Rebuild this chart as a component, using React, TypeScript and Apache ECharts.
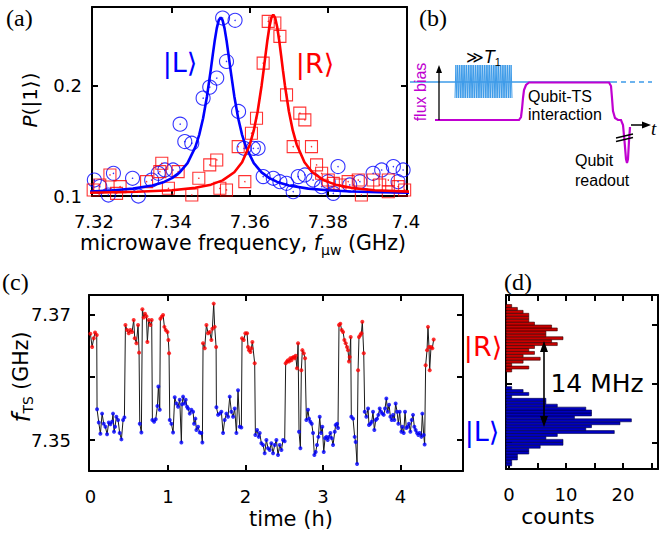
import React, { useEffect, useRef } from "react";
import * as echarts from "echarts";

// ---------- Panel (a): spectroscopy ----------
const blueFreq = [7.3201, 7.3215, 7.3237, 7.3250, 7.3299, 7.3314, 7.3348, 7.3365, 7.3382, 7.3403, 7.3421, 7.3433, 7.3451, 7.3480, 7.3497, 7.3515, 7.3530, 7.3562, 7.3540, 7.3571, 7.3585, 7.3609, 7.3621, 7.3634, 7.3660, 7.3677, 7.3694, 7.3711, 7.3724, 7.3741, 7.3762, 7.3784, 7.3801, 7.3814, 7.3826, 7.3856, 7.3882, 7.3916, 7.3938, 7.3968, 7.3993, 7.3980];
const blueP = [0.1145, 0.1085, 0.1009, 0.1206, 0.1161, 0.1000, 0.1145, 0.1206, 0.1236, 0.1236, 0.1652, 0.1494, 0.1479, 0.1888, 0.1988, 0.2070, 0.2615, 0.2594, 0.2221, 0.1767, 0.1433, 0.1433, 0.1433, 0.1176, 0.1161, 0.1130, 0.1115, 0.1039, 0.1176, 0.1191, 0.1145, 0.1085, 0.1130, 0.1024, 0.1267, 0.1100, 0.1130, 0.1206, 0.1236, 0.1267, 0.1236, 0.1130];
const redFreq = [7.3198, 7.3215, 7.3241, 7.3258, 7.3267, 7.3335, 7.3369, 7.3374, 7.3391, 7.3416, 7.3451, 7.3469, 7.3497, 7.3515, 7.3523, 7.3540, 7.3570, 7.3587, 7.3604, 7.3617, 7.3634, 7.3647, 7.3664, 7.3677, 7.3694, 7.3728, 7.3741, 7.3711, 7.3758, 7.3771, 7.3784, 7.3801, 7.3814, 7.3831, 7.3852, 7.3878, 7.3886, 7.3916, 7.3933, 7.3955, 7.3955, 7.3980, 7.3997];
const redP = [0.1055, 0.1100, 0.1191, 0.1024, 0.1085, 0.1130, 0.1221, 0.1297, 0.1070, 0.1221, 0.1009, 0.1161, 0.1282, 0.1327, 0.1070, 0.1055, 0.1448, 0.1130, 0.1570, 0.1706, 0.2206, 0.2585, 0.2570, 0.2448, 0.1918, 0.1752, 0.1691, 0.1448, 0.1448, 0.1282, 0.1206, 0.1145, 0.1115, 0.1100, 0.1130, 0.1145, 0.1009, 0.1145, 0.1100, 0.1145, 0.1039, 0.1085, 0.1055];
const blueFitFreq = [7.319, 7.325, 7.33, 7.335, 7.338, 7.34, 7.342, 7.344, 7.346, 7.347, 7.348, 7.349, 7.35, 7.3505, 7.351, 7.3515, 7.352, 7.3525, 7.353, 7.3535, 7.354, 7.3545, 7.355, 7.356, 7.357, 7.358, 7.359, 7.361, 7.363, 7.365, 7.367, 7.37, 7.375, 7.38, 7.386, 7.393, 7.401];
const blueFitP = [0.1041, 0.1052, 0.1067, 0.1096, 0.1128, 0.1162, 0.1214, 0.1298, 0.1443, 0.1555, 0.1706, 0.1906, 0.2154, 0.2287, 0.2414, 0.2521, 0.2594, 0.2620, 0.2594, 0.2521, 0.2414, 0.2287, 0.2154, 0.1906, 0.1706, 0.1555, 0.1443, 0.1298, 0.1214, 0.1162, 0.1128, 0.1096, 0.1067, 0.1052, 0.1041, 0.1035, 0.1030];
const redFitFreq = [7.319, 7.331, 7.34, 7.346, 7.35, 7.353, 7.356, 7.358, 7.36, 7.361, 7.362, 7.363, 7.3635, 7.364, 7.3645, 7.365, 7.3655, 7.366, 7.3665, 7.367, 7.3675, 7.368, 7.3685, 7.369, 7.37, 7.371, 7.372, 7.374, 7.376, 7.379, 7.382, 7.386, 7.392, 7.401];
const redFitP = [0.1030, 0.1038, 0.1052, 0.1074, 0.1103, 0.1142, 0.1216, 0.1306, 0.1468, 0.1595, 0.1769, 0.2001, 0.2135, 0.2278, 0.2416, 0.2534, 0.2616, 0.2645, 0.2616, 0.2534, 0.2416, 0.2278, 0.2135, 0.2001, 0.1769, 0.1595, 0.1468, 0.1306, 0.1216, 0.1142, 0.1103, 0.1074, 0.1052, 0.1039];
const freqTicks = [7.32, 7.34, 7.36, 7.38, 7.4];
const probTicks = [0.1, 0.2];

// ---------- Panel (c): TS frequency vs time ----------
const timeH = [0.000, 0.022, 0.043, 0.060, 0.082, 0.086, 0.108, 0.129, 0.151, 0.172, 0.194, 0.215, 0.237, 0.258, 0.280, 0.292, 0.305, 0.318, 0.335, 0.357, 0.378, 0.400, 0.422, 0.439, 0.452, 0.473, 0.495, 0.516, 0.538, 0.559, 0.572, 0.594, 0.615, 0.628, 0.637, 0.658, 0.671, 0.688, 0.705, 0.723, 0.735, 0.753, 0.774, 0.791, 0.800, 0.822, 0.843, 0.865, 0.877, 0.895, 0.903, 0.920, 0.938, 0.955, 0.972, 0.994, 1.006, 1.015, 1.024, 1.045, 1.067, 1.088, 1.110, 1.131, 1.153, 1.174, 1.183, 1.196, 1.217, 1.230, 1.247, 1.260, 1.282, 1.303, 1.325, 1.338, 1.355, 1.368, 1.389, 1.411, 1.432, 1.445, 1.454, 1.475, 1.497, 1.518, 1.540, 1.561, 1.574, 1.591, 1.604, 1.622, 1.626, 1.647, 1.669, 1.690, 1.712, 1.733, 1.755, 1.776, 1.798, 1.819, 1.841, 1.862, 1.884, 1.905, 1.927, 1.948, 1.957, 1.978, 2.000, 2.022, 2.034, 2.047, 2.065, 2.077, 2.090, 2.120, 2.129, 2.151, 2.172, 2.185, 2.206, 2.228, 2.249, 2.271, 2.292, 2.314, 2.335, 2.357, 2.378, 2.400, 2.421, 2.443, 2.465, 2.486, 2.507, 2.520, 2.537, 2.550, 2.563, 2.580, 2.593, 2.606, 2.623, 2.636, 2.649, 2.666, 2.680, 2.692, 2.710, 2.722, 2.735, 2.753, 2.770, 2.787, 2.808, 2.821, 2.838, 2.856, 2.873, 2.890, 2.907, 2.924, 2.942, 2.959, 2.976, 2.993, 3.011, 3.028, 3.045, 3.062, 3.079, 3.097, 3.114, 3.131, 3.153, 3.165, 3.183, 3.195, 3.208, 3.225, 3.243, 3.260, 3.277, 3.294, 3.311, 3.324, 3.337, 3.346, 3.359, 3.367, 3.389, 3.410, 3.423, 3.441, 3.454, 3.466, 3.484, 3.497, 3.509, 3.527, 3.540, 3.561, 3.583, 3.595, 3.613, 3.630, 3.647, 3.664, 3.682, 3.699, 3.716, 3.733, 3.750, 3.768, 3.785, 3.802, 3.819, 3.836, 3.854, 3.871, 3.888, 3.905, 3.922, 3.939, 3.957, 3.974, 3.991, 4.013, 4.025, 4.043, 4.060, 4.077, 4.094, 4.111, 4.129, 4.146, 4.163, 4.180, 4.197, 4.215, 4.232, 4.249, 4.271, 4.283, 4.301, 4.313, 4.326, 4.344, 4.356, 4.369, 4.378, 4.395, 4.412, 4.430];
const fTS = [7.3669, 7.3648, 7.3662, 7.3671, 7.3667, 7.3549, 7.3528, 7.3510, 7.3542, 7.3526, 7.3521, 7.3509, 7.3528, 7.3525, 7.3529, 7.3542, 7.3513, 7.3521, 7.3537, 7.3532, 7.3511, 7.3501, 7.3532, 7.3536, 7.3683, 7.3675, 7.3670, 7.3675, 7.3672, 7.3691, 7.3662, 7.3654, 7.3683, 7.3639, 7.3526, 7.3512, 7.3708, 7.3695, 7.3701, 7.3697, 7.3656, 7.3691, 7.3683, 7.3691, 7.3532, 7.3529, 7.3533, 7.3554, 7.3585, 7.3548, 7.3693, 7.3696, 7.3699, 7.3680, 7.3675, 7.3672, 7.3659, 7.3638, 7.3532, 7.3526, 7.3512, 7.3568, 7.3558, 7.3553, 7.3564, 7.3496, 7.3557, 7.3569, 7.3558, 7.3564, 7.3553, 7.3550, 7.3542, 7.3548, 7.3545, 7.3526, 7.3534, 7.3516, 7.3521, 7.3512, 7.3511, 7.3496, 7.3654, 7.3646, 7.3683, 7.3670, 7.3672, 7.3659, 7.3677, 7.3717, 7.3680, 7.3648, 7.3552, 7.3540, 7.3542, 7.3545, 7.3511, 7.3532, 7.3542, 7.3537, 7.3569, 7.3545, 7.3537, 7.3550, 7.3511, 7.3579, 7.3521, 7.3520, 7.3662, 7.3659, 7.3670, 7.3670, 7.3648, 7.3643, 7.3640, 7.3646, 7.3656, 7.3622, 7.3508, 7.3516, 7.3505, 7.3511, 7.3495, 7.3492, 7.3479, 7.3500, 7.3487, 7.3484, 7.3495, 7.3479, 7.3492, 7.3500, 7.3476, 7.3492, 7.3484, 7.3500, 7.3498, 7.3622, 7.3625, 7.3627, 7.3625, 7.3630, 7.3627, 7.3631, 7.3632, 7.3630, 7.3634, 7.3614, 7.3654, 7.3513, 7.3487, 7.3611, 7.3643, 7.3638, 7.3630, 7.3532, 7.3548, 7.3534, 7.3529, 7.3526, 7.3511, 7.3476, 7.3481, 7.3492, 7.3505, 7.3537, 7.3511, 7.3521, 7.3481, 7.3503, 7.3505, 7.3500, 7.3505, 7.3511, 7.3503, 7.3492, 7.3513, 7.3524, 7.3526, 7.3519, 7.3683, 7.3685, 7.3675, 7.3672, 7.3659, 7.3654, 7.3648, 7.3643, 7.3625, 7.3632, 7.3664, 7.3537, 7.3534, 7.3505, 7.3497, 7.3462, 7.3611, 7.3664, 7.3667, 7.3670, 7.3688, 7.3638, 7.3545, 7.3537, 7.3550, 7.3524, 7.3526, 7.3529, 7.3545, 7.3516, 7.3532, 7.3534, 7.3540, 7.3550, 7.3545, 7.3542, 7.3540, 7.3550, 7.3566, 7.3545, 7.3556, 7.3537, 7.3532, 7.3540, 7.3532, 7.3558, 7.3545, 7.3526, 7.3545, 7.3513, 7.3521, 7.3511, 7.3545, 7.3519, 7.3521, 7.3526, 7.3513, 7.3532, 7.3540, 7.3521, 7.3516, 7.3511, 7.3508, 7.3511, 7.3505, 7.3542, 7.3508, 7.3493, 7.3619, 7.3643, 7.3680, 7.3648, 7.3611, 7.3648, 7.3646, 7.3660];
const stateThreshold = 7.359;
const timeTicks = [0, 1, 2, 3, 4];
const fTicks = [7.35, 7.36, 7.37];
const fTickLabels = [7.35, 7.37];

// ---------- Panel (d): histogram ----------
const binCenters = [7.34625, 7.34675, 7.34725, 7.34775, 7.34825, 7.34875, 7.34925, 7.34975, 7.35025, 7.35075, 7.35125, 7.35175, 7.35225, 7.35275, 7.35325, 7.35375, 7.35425, 7.35475, 7.35525, 7.35575, 7.35625, 7.35675, 7.35725, 7.35775, 7.35825, 7.35875, 7.35925, 7.35975, 7.36025, 7.36075, 7.36125, 7.36175, 7.36225, 7.36275, 7.36325, 7.36375, 7.36425, 7.36475, 7.36525, 7.36575, 7.36625, 7.36675, 7.36725, 7.36775, 7.36825, 7.36875, 7.36925, 7.36975, 7.37025, 7.37075, 7.37125, 7.37175, 7.37225, 7.37275, 7.37325, 7.37375];
const blueCounts = [1, 1, 2, 2, 4, 4, 6, 10, 10, 7, 9, 19, 14, 15, 20, 22, 12, 15, 15, 14, 9, 7, 7, 1, 4, 3, 1, 0, 0, 0, 0, 0, 0, 0, 0, 0, 0, 0, 0, 0, 0, 0, 0, 0, 0, 0, 0, 0, 0, 0, 0, 0, 0, 0, 0, 0];
const redCounts = [0, 0, 0, 0, 0, 0, 0, 0, 0, 0, 0, 0, 0, 0, 0, 0, 0, 0, 0, 0, 0, 0, 0, 0, 0, 0, 0, 0, 0, 0, 0, 0, 1, 4, 1, 3, 6, 3, 5, 4, 5, 9, 8, 10, 7, 7, 9, 8, 5, 4, 4, 4, 3, 2, 1, 0];
const binWidth = 0.0005;
const countTicks = [0, 5, 10, 15, 20, 25];
const countLabels = [0, 10, 20];

const FONT = '"DejaVu Sans", "Open Sans", sans-serif';
const SERIF = '"Liberation Serif", "DejaVu Serif", serif';
const ARIAL = '"Liberation Sans", "DejaVu Sans", sans-serif';
const BLUE = "#0000ff";
const RED = "#ff0000";
const MAG = "#c000d0";
const LBLUE = "#3d9be9";

function axis(extra: any) {
  const tickVals = extra.tickVals;
  const labelVals = extra.labelVals;
  const fmt = extra.fmt;
  const a: any = {
    type: "value",
    gridIndex: extra.gridIndex,
    position: extra.position,
    min: extra.min,
    max: extra.max,
    axisLine: { show: true, onZero: false, lineStyle: { color: "#000", width: 2 } },
    splitLine: { show: false },
    axisTick: tickVals
      ? { show: true, inside: true, length: 6, lineStyle: { color: "#000", width: 2 }, customValues: tickVals }
      : { show: false },
    axisLabel: labelVals
      ? { show: true, customValues: labelVals, formatter: fmt, fontSize: 18, color: "#000", fontFamily: FONT, margin: extra.margin ?? 10 }
      : { show: false },
  };
  return a;
}

const fmtNum = (v: number) => String(Number(v.toFixed(3)));

function zigzag(x0: number, x1: number, y0: number, y1: number, n: number) {
  const pts: number[][] = [];
  for (let i = 0; i <= n; i++) pts.push([x0 + ((x1 - x0) * i) / n, i % 2 ? y0 : y1]);
  return pts;
}

function buildOption() {
  const redPts: number[][] = [];
  const bluePts: number[][] = [];
  const linePts: number[][] = [];
  timeH.forEach((t, i) => {
    linePts.push([t, fTS[i]]);
    (fTS[i] > stateThreshold ? redPts : bluePts).push([t, fTS[i]]);
  });
  const histData = (counts: number[]) => binCenters.map((c, i) => [counts[i], c]).filter((d) => d[0] > 0);
  const histRender = (fill: string, stroke: string) => (params: any, api: any) => {
    const n = api.value(0);
    const c = api.value(1);
    const p0 = api.coord([0, c - binWidth / 2]);
    const p1 = api.coord([n, c + binWidth / 2]);
    return {
      type: "rect",
      shape: { x: p0[0], y: p1[1], width: p1[0] - p0[0], height: p0[1] - p1[1] },
      style: { fill, stroke, lineWidth: 0.6 },
    };
  };

  const textBase = { fontFamily: FONT, fill: "#000" };

  return {
    animation: false,
    backgroundColor: "#fff",
    grid: [
      { left: 92, top: 7, width: 315, height: 189, outerBoundsMode: "none" },
      { left: 89, top: 295, width: 374, height: 176, outerBoundsMode: "none" },
      { left: 506, top: 295, width: 152, height: 174, outerBoundsMode: "none" },
    ],
    xAxis: [
      axis({ gridIndex: 0, position: "bottom", min: 7.3195, max: 7.4003, tickVals: [7.34, 7.36, 7.38], labelVals: freqTicks, fmt: fmtNum, margin: 16 }),
      axis({ gridIndex: 0, position: "top", min: 7.3195, max: 7.4003, tickVals: [7.34, 7.36, 7.38] }),
      axis({ gridIndex: 1, position: "bottom", min: -0.018, max: 4.808, tickVals: [1, 2, 3, 4], labelVals: timeTicks, fmt: fmtNum, margin: 16 }),
      axis({ gridIndex: 1, position: "top", min: -0.018, max: 4.808, tickVals: [1, 2, 3, 4] }),
      axis({ gridIndex: 2, position: "bottom", min: -0.53, max: 26.14, tickVals: countTicks, labelVals: countLabels, fmt: fmtNum, margin: 16 }),
      axis({ gridIndex: 2, position: "top", min: -0.53, max: 26.14, tickVals: countTicks }),
      { type: "value", gridIndex: 2, min: 0, max: 26.67, show: false },
    ],
    yAxis: [
      axis({ gridIndex: 0, position: "left", min: 0.1, max: 0.2715, tickVals: [0.2], labelVals: probTicks, fmt: fmtNum, margin: 10 }),
      axis({ gridIndex: 0, position: "right", min: 0.1, max: 0.2715, tickVals: [0.2] }),
      axis({ gridIndex: 1, position: "left", min: 7.34507, max: 7.37307, tickVals: fTicks, labelVals: fTickLabels, fmt: fmtNum, margin: 18 }),
      axis({ gridIndex: 1, position: "right", min: 7.34507, max: 7.37307, tickVals: fTicks }),
      axis({ gridIndex: 2, position: "left", min: 7.34545, max: 7.37512, tickVals: fTicks }),
      axis({ gridIndex: 2, position: "right", min: 7.34545, max: 7.37512, tickVals: fTicks }),
    ],
    series: [
      {
        type: "scatter", xAxisIndex: 0, yAxisIndex: 0, symbol: "circle", symbolSize: 14,
        data: blueFreq.map((f, i) => [f, blueP[i]]),
        itemStyle: { color: "rgba(0,0,0,0)", borderColor: BLUE, borderWidth: 1.1 }, z: 2,
      },
      {
        type: "scatter", xAxisIndex: 0, yAxisIndex: 0, symbol: "rect", symbolSize: 12,
        data: redFreq.map((f, i) => [f, redP[i]]),
        itemStyle: { color: "rgba(0,0,0,0)", borderColor: RED, borderWidth: 1.1 }, z: 2,
      },
      {
        type: "scatter", xAxisIndex: 0, yAxisIndex: 0, symbolSize: 1.5,
        data: blueFreq.map((f, i) => [f, blueP[i]]), itemStyle: { color: BLUE }, z: 2,
      },
      {
        type: "scatter", xAxisIndex: 0, yAxisIndex: 0, symbolSize: 1.5,
        data: redFreq.map((f, i) => [f, redP[i]]), itemStyle: { color: RED }, z: 2,
      },
      {
        type: "line", xAxisIndex: 0, yAxisIndex: 0, showSymbol: false, symbol: "none",
        data: blueFitFreq.map((f, i) => [f, blueFitP[i]]),
        lineStyle: { color: BLUE, width: 2.6 }, z: 3,
      },
      {
        type: "line", xAxisIndex: 0, yAxisIndex: 0, showSymbol: false, symbol: "none",
        data: redFitFreq.map((f, i) => [f, redFitP[i]]),
        lineStyle: { color: RED, width: 2.6 }, z: 3,
      },
      {
        type: "line", xAxisIndex: 2, yAxisIndex: 2, symbol: "none", data: linePts,
        lineStyle: { color: "#1a1a1a", width: 1 }, z: 2,
      },
      {
        type: "scatter", xAxisIndex: 2, yAxisIndex: 2, symbolSize: 4, data: redPts,
        itemStyle: { color: RED }, z: 3,
      },
      {
        type: "scatter", xAxisIndex: 2, yAxisIndex: 2, symbolSize: 4, data: bluePts,
        itemStyle: { color: BLUE }, z: 3,
      },
      {
        type: "custom", coordinateSystem: "cartesian2d", xAxisIndex: 6, yAxisIndex: 4,
        data: histData(redCounts), renderItem: histRender("#c80000", "#300000"), z: 2,
      },
      {
        type: "custom", coordinateSystem: "cartesian2d", xAxisIndex: 6, yAxisIndex: 4,
        data: histData(blueCounts), renderItem: histRender("#0000c0", "#000040"), z: 2,
      },
    ],
    graphic: [
      // panel labels
      { type: "text", x: 6, y: 6, style: { text: "(a)", fontFamily: SERIF, fontSize: 24, fill: "#000" } },
      { type: "text", x: 419, y: 6, style: { text: "(b)", fontFamily: SERIF, fontSize: 24, fill: "#000" } },
      { type: "text", x: 2, y: 270, style: { text: "(c)", fontFamily: SERIF, fontSize: 24, fill: "#000" } },
      { type: "text", x: 504, y: 270, style: { text: "(d)", fontFamily: SERIF, fontSize: 24, fill: "#000" } },
      // axis titles
      {
        type: "text", x: 243, y: 243,
        style: {
          ...textBase, fontSize: 20.5, align: "center", verticalAlign: "middle",
          text: "microwave frequency, {i|f}{s|μw} (GHz)",
          rich: {
            i: { fontFamily: FONT, fontSize: 20.5, fontStyle: "italic" },
            s: { fontFamily: FONT, fontSize: 14, padding: [13, 0, 0, 0] },
          },
        },
      },
      {
        type: "text", x: 30, y: 100, rotation: Math.PI / 2,
        style: {
          ...textBase, fontSize: 20, align: "center", verticalAlign: "middle",
          text: "{i|P}(|1⟩)",
          rich: { i: { fontFamily: FONT, fontSize: 20, fontStyle: "italic" } },
        },
      },
      {
        type: "text", x: 21, y: 377, rotation: Math.PI / 2,
        style: {
          ...textBase, fontSize: 20.5, align: "center", verticalAlign: "middle",
          text: "{i|f}{s|TS} (GHz)",
          rich: {
            i: { fontFamily: FONT, fontSize: 25, fontStyle: "italic" },
            s: { fontFamily: FONT, fontSize: 14, padding: [13, 0, 0, 0] },
          },
        },
      },
      { type: "text", x: 291, y: 519, style: { ...textBase, fontSize: 21, align: "center", verticalAlign: "middle", text: "time (h)" } },
      { type: "text", x: 558, y: 516, style: { ...textBase, fontSize: 22, align: "center", verticalAlign: "middle", text: "counts" } },
      // state labels
      { type: "text", x: 180, y: 62, style: { fontFamily: FONT, fontSize: 27, fill: BLUE, align: "center", verticalAlign: "middle", text: "|L⟩" } },
      { type: "text", x: 315, y: 63, style: { fontFamily: FONT, fontSize: 27, fill: RED, align: "center", verticalAlign: "middle", text: "|R⟩" } },
      { type: "text", x: 483, y: 346, style: { fontFamily: FONT, fontSize: 27, fill: RED, align: "center", verticalAlign: "middle", text: "|R⟩" } },
      { type: "text", x: 482, y: 431, style: { fontFamily: FONT, fontSize: 27, fill: BLUE, align: "center", verticalAlign: "middle", text: "|L⟩" } },
      // 14 MHz
      { type: "text", x: 597, y: 383, z: 10, style: { ...textBase, fontSize: 25, align: "center", verticalAlign: "middle", text: "14 MHz" } },
      { type: "line", z: 10, shape: { x1: 544, y1: 348, x2: 544, y2: 421 }, style: { stroke: "#000", lineWidth: 1.6 } },
      { type: "polygon", z: 10, shape: { points: [[540, 352], [544, 341], [548, 352]] }, style: { fill: "#000" } },
      { type: "polygon", z: 10, shape: { points: [[540, 416], [544, 427], [548, 416]] }, style: { fill: "#000" } },
      // ---- panel (b) schematic ----
      { type: "line", shape: { x1: 410, y1: 82, x2: 612, y2: 82 }, style: { stroke: LBLUE, lineWidth: 1.5 } },
      { type: "line", shape: { x1: 612, y1: 82, x2: 652, y2: 82 }, style: { stroke: LBLUE, lineWidth: 1.5, lineDash: [5, 4] } },
      { type: "polyline", shape: { points: zigzag(455, 512, 65, 98, 64) }, style: { stroke: LBLUE, lineWidth: 1, fill: null } },
      {
        type: "polyline",
        shape: {
          points: [[435, 120], [519, 120], [521, 117], [522, 109], [523, 98], [524, 90], [526, 85], [529, 82.5], [609, 82.5], [611, 86], [612, 98], [613, 111], [615, 118], [618, 120], [621, 120], [623, 125], [624.5, 141], [626, 159], [627, 163], [628, 159], [629, 141], [630, 127]],
        },
        style: { stroke: MAG, lineWidth: 2.2, fill: null },
      },
      { type: "line", shape: { x1: 439, y1: 120, x2: 439, y2: 72 }, style: { stroke: "#000", lineWidth: 1.3 } },
      { type: "polygon", shape: { points: [[436, 73], [439, 65], [442, 73]] }, style: { fill: "#000" } },
      { type: "line", shape: { x1: 631, y1: 125, x2: 644, y2: 125 }, style: { stroke: "#000", lineWidth: 1.5 } },
      { type: "polygon", shape: { points: [[642, 121.5], [651, 125], [642, 128.5]] }, style: { fill: "#000" } },
      { type: "line", shape: { x1: 616, y1: 138, x2: 633, y2: 134 }, style: { stroke: "#000", lineWidth: 1.3 } },
      { type: "line", shape: { x1: 616, y1: 141.5, x2: 633, y2: 137.5 }, style: { stroke: "#000", lineWidth: 1.3 } },
      { type: "text", x: 651, y: 128, style: { fontFamily: SERIF, fontSize: 19, fontStyle: "italic", fill: "#000", text: "t", verticalAlign: "middle" } },
      {
        type: "text", x: 466, y: 57,
        style: {
          fontFamily: ARIAL, fontSize: 17, fill: "#000", verticalAlign: "middle",
          text: "≫{i|T}{s|1}",
          rich: { i: { fontFamily: ARIAL, fontSize: 18, fontStyle: "italic" }, s: { fontFamily: ARIAL, fontSize: 11, padding: [10, 0, 0, 0] } },
        },
      },
      { type: "text", x: 528, y: 96, style: { fontFamily: ARIAL, fontSize: 16, fill: "#000", verticalAlign: "middle", text: "Qubit-TS" } },
      { type: "text", x: 528, y: 114, style: { fontFamily: ARIAL, fontSize: 16, fill: "#000", verticalAlign: "middle", text: "interaction" } },
      { type: "text", x: 575, y: 160, style: { fontFamily: ARIAL, fontSize: 16, fill: "#000", verticalAlign: "middle", text: "Qubit" } },
      { type: "text", x: 575, y: 180, style: { fontFamily: ARIAL, fontSize: 16, fill: "#000", verticalAlign: "middle", text: "readout" } },
      { type: "text", x: 420, y: 92, rotation: Math.PI / 2, style: { fontFamily: ARIAL, fontSize: 16, fill: MAG, align: "center", verticalAlign: "middle", text: "flux bias" } },
    ],
  };
}

export default function App() {
  const ref = useRef<HTMLDivElement>(null);
  useEffect(() => {
    if (!ref.current) return;
    const chart = echarts.init(ref.current, null, { renderer: "svg" });
    chart.setOption(buildOption() as any);
    return () => chart.dispose();
  }, []);
  return (
    <div
      ref={ref}
      style={{ position: "fixed", left: 0, top: 0, width: 660, height: 536, background: "#fff" }}
    />
  );
}
